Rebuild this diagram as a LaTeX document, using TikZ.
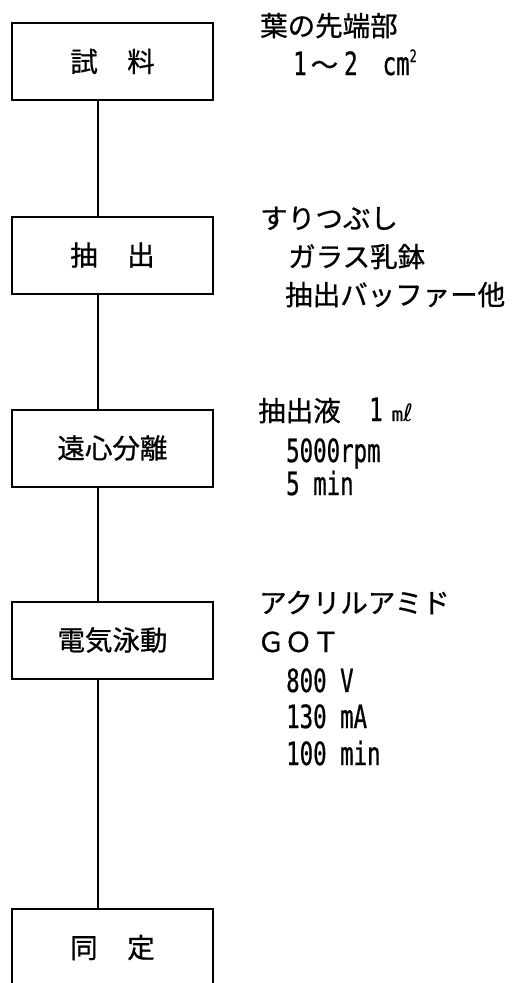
\documentclass[tikz,border=0pt]{standalone}
\usepackage{fontspec}
\setmainfont{Noto Sans CJK JP}[FakeBold=0.8]
\newfontfamily\latf{DejaVu Sans Mono}[FakeStretch=0.7,FakeBold=0.6]
\newfontfamily\monof{DejaVu Sans Mono}[FakeBold=0.6]
\newfontfamily\dvsf{DejaVu Sans}
\newcommand\jpsize{\fontsize{27.5}{33}\selectfont}
\newcommand\nm[1]{{\latf\fontsize{32}{38}\selectfont #1}}
\tikzset{
  stepbox/.style={draw, line width=2pt, minimum width=201pt, minimum height=77pt,
    inner sep=0pt, font=\jpsize},
  note/.style={anchor=base west, inner sep=0pt, font=\jpsize},
  link/.style={line width=2.4pt}
}
\begin{document}
\begin{tikzpicture}[x=1pt,y=-1pt]
\useasboundingbox (0,0) rectangle (517,983);
\clip (0,0) rectangle (517,983);
\fill[white] (0,0) rectangle (517,983);

% process boxes
\node[stepbox] (b1) at (112.5,61.5) {試\hspace{29.5pt}料\hspace{29pt}};
\node[stepbox] (b2) at (112.5,255) {抽\hspace{29.5pt}出\hspace{29pt}};
\node[stepbox] (b3) at (112.5,448) {遠心分離};
\node[stepbox] (b4) at (112.5,640) {電気泳動};
\node[stepbox] (b5) at (112.5,947.5) {同\hspace{29.5pt}定\hspace{29pt}};

% connectors
\coordinate (axis) at (98,0);
\draw[link] (b1.south -| axis) -- (b2.north -| axis);
\draw[link] (b2.south -| axis) -- (b3.north -| axis);
\draw[link] (b3.south -| axis) -- (b4.north -| axis);
\draw[link] (b4.south -| axis) -- (b5.north -| axis);

% notes
\node[note] (n1a) at (260,36) {葉の先端部};
\node[note] (n1b) at (293,75) {\nm{1}\hspace{4pt}～\hspace{6pt}\nm{2}\hspace{25pt}\nm{cm}\raisebox{13pt}{\nm{\fontsize{17}{20}\selectfont 2}}};

\node[note] (n2a) at (260,228.5) {すりつぶし};
\node[note] (n2b) at (288,267) {ガラス乳鉢};
\node[note] (n2c) at (285,305) {抽出バッファー他};

\node[note] (n3a) at (258,421) {抽出液\hspace{28.5pt}\nm{1}\hspace{9pt}{\monof\fontsize{19}{22}\selectfont m}{\dvsf\fontsize{24}{26}\selectfont ℓ}};
\node[note] (n3b) at (286,462) {\nm{5000rpm}};
\node[note] (n3c) at (286,495) {\nm{5 min}};

\node[note] (n4a) at (259,613) {アクリルアミド};
\node[note] (n4b) at (257,652) {ＧＯＴ};
\node[note] (n4c) at (286,692) {\nm{800 V}};
\node[note] (n4d) at (286,728) {\nm{130 mA}};
\node[note] (n4e) at (286,765) {\nm{100 min}};
\end{tikzpicture}
\end{document}
